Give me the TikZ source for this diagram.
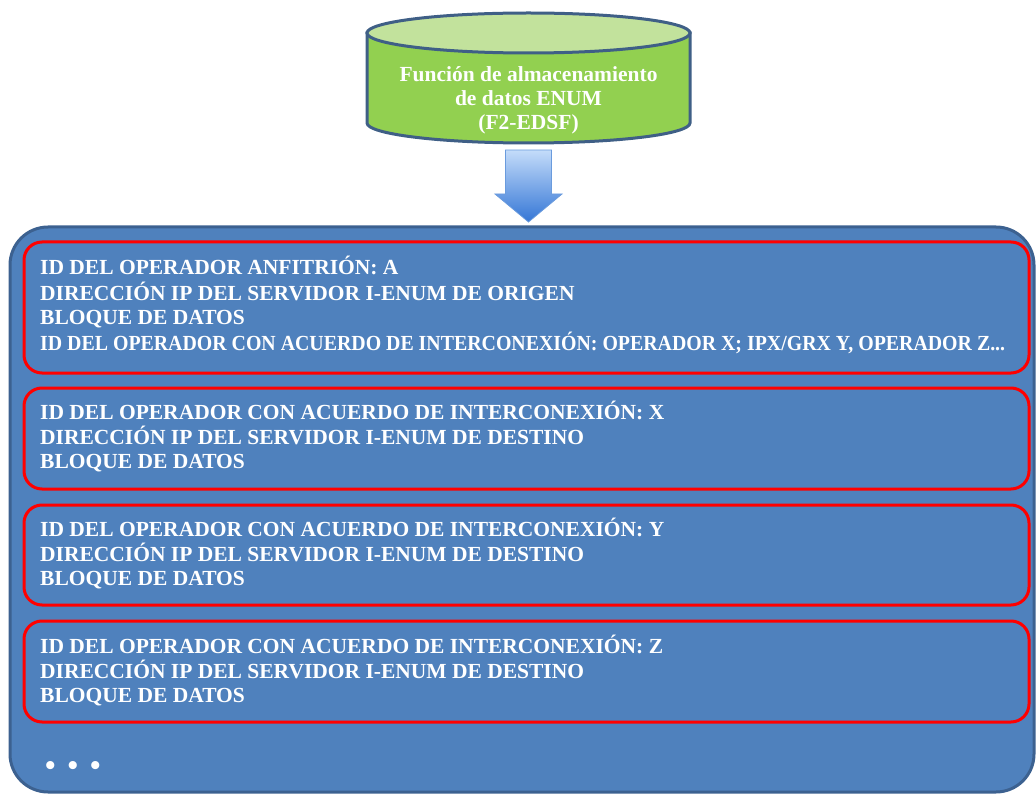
\documentclass[tikz,border=0pt]{standalone}
\usepackage{fontspec}
\setmainfont{Liberation Serif}
\usepackage{graphicx}
\definecolor{panelblue}{HTML}{4F81BD}
\definecolor{paneledge}{HTML}{3C6190}
\definecolor{cylgreen}{HTML}{92D050}
\definecolor{cyltopgreen}{HTML}{C2E29C}
\definecolor{cyledge}{HTML}{3F5F86}
\definecolor{arrowtop}{HTML}{C4DCFA}
\definecolor{arrowbottom}{HTML}{3476D6}
\definecolor{arrowedge}{HTML}{6A9BDD}
\definecolor{recordred}{HTML}{FF0000}

\newcommand{\boxfont}{\fontsize{21.5}{24}\selectfont\bfseries}
\newcommand{\condensedline}[1]{\resizebox{965pt}{\height}{#1}}

\tikzset{
  panel/.style={draw=paneledge, line width=3pt, fill=panelblue, rounded corners=38pt},
  record/.style={draw=recordred, line width=3pt, rounded corners=18pt},
  cylside/.style={draw=cyledge, line width=3pt, fill=cylgreen},
  cyltop/.style={draw=cyledge, line width=3pt, fill=cyltopgreen},
  downarrow/.style={draw=arrowedge, line width=0.8pt, top color=arrowtop, bottom color=arrowbottom},
  rectext/.style={anchor=base west, inner sep=0pt, text=white, font=\boxfont},
  cyltext/.style={anchor=base, inner sep=0pt, text=white, font=\boxfont}
}

\begin{document}
\begin{tikzpicture}[x=1pt,y=1pt]
\useasboundingbox (0,0) rectangle (1036,-794);

% storage cylinder
\path[cylside] (367,-33) -- (367,-123)
  arc[start angle=180, end angle=360, x radius=161.5, y radius=20] -- (690,-33) -- cycle;
\path[cyltop] (528.5,-33) ellipse[x radius=161.5, y radius=20];
\node[cyltext] (edsf) at (528.5,-82)
  {\begin{tabular}[t]{@{}c@{}}Función de almacenamiento\\de datos ENUM\\(F2-EDSF)\end{tabular}};

% outer panel holding the records
\begin{scope}
\clip (0,0) rectangle (1036,-794);
\path[panel] (10,-227) rectangle (1034,-792);
\end{scope}
\coordinate (paneltop) at (528.5,-227);

% arrow from the storage function down to the panel
\coordinate (arrowtip) at (528.5,-222);
\path[downarrow] (505.5,-150) -- (551.5,-150) -- (551.5,-194) -- (562,-194)
  -- (arrowtip) -- (495,-194) -- (505.5,-194) -- cycle;

% records
\path[record] (24,-242) rectangle (1029,-373);
\path[record] (24,-388) rectangle (1029,-489);
\path[record] (24,-505) rectangle (1029,-605);
\path[record] (24,-621) rectangle (1029,-722);

\node[rectext] (host) at (40,-275)
  {\begin{tabular}[t]{@{}l@{}}ID DEL OPERADOR ANFITRIÓN: A\\
   DIRECCIÓN IP DEL SERVIDOR I-ENUM DE ORIGEN\\
   BLOQUE DE DATOS\\
   \condensedline{ID DEL OPERADOR CON ACUERDO DE INTERCONEXIÓN: OPERADOR X; IPX/GRX Y, OPERADOR Z...}\end{tabular}};

\node[rectext] (opx) at (40,-419)
  {\begin{tabular}[t]{@{}l@{}}ID DEL OPERADOR CON ACUERDO DE INTERCONEXIÓN: X\\
   DIRECCIÓN IP DEL SERVIDOR I-ENUM DE DESTINO\\
   BLOQUE DE DATOS\end{tabular}};

\node[rectext] (opy) at (40,-536)
  {\begin{tabular}[t]{@{}l@{}}ID DEL OPERADOR CON ACUERDO DE INTERCONEXIÓN: Y\\
   DIRECCIÓN IP DEL SERVIDOR I-ENUM DE DESTINO\\
   BLOQUE DE DATOS\end{tabular}};

\node[rectext] (opz) at (40,-653)
  {\begin{tabular}[t]{@{}l@{}}ID DEL OPERADOR CON ACUERDO DE INTERCONEXIÓN: Z\\
   DIRECCIÓN IP DEL SERVIDOR I-ENUM DE DESTINO\\
   BLOQUE DE DATOS\end{tabular}};

\node[rectext, font=\fontsize{30}{30}\selectfont\bfseries] (more) at (45,-775)
  {•\hspace{12pt}•\hspace{12pt}•};
\end{tikzpicture}
\end{document}
